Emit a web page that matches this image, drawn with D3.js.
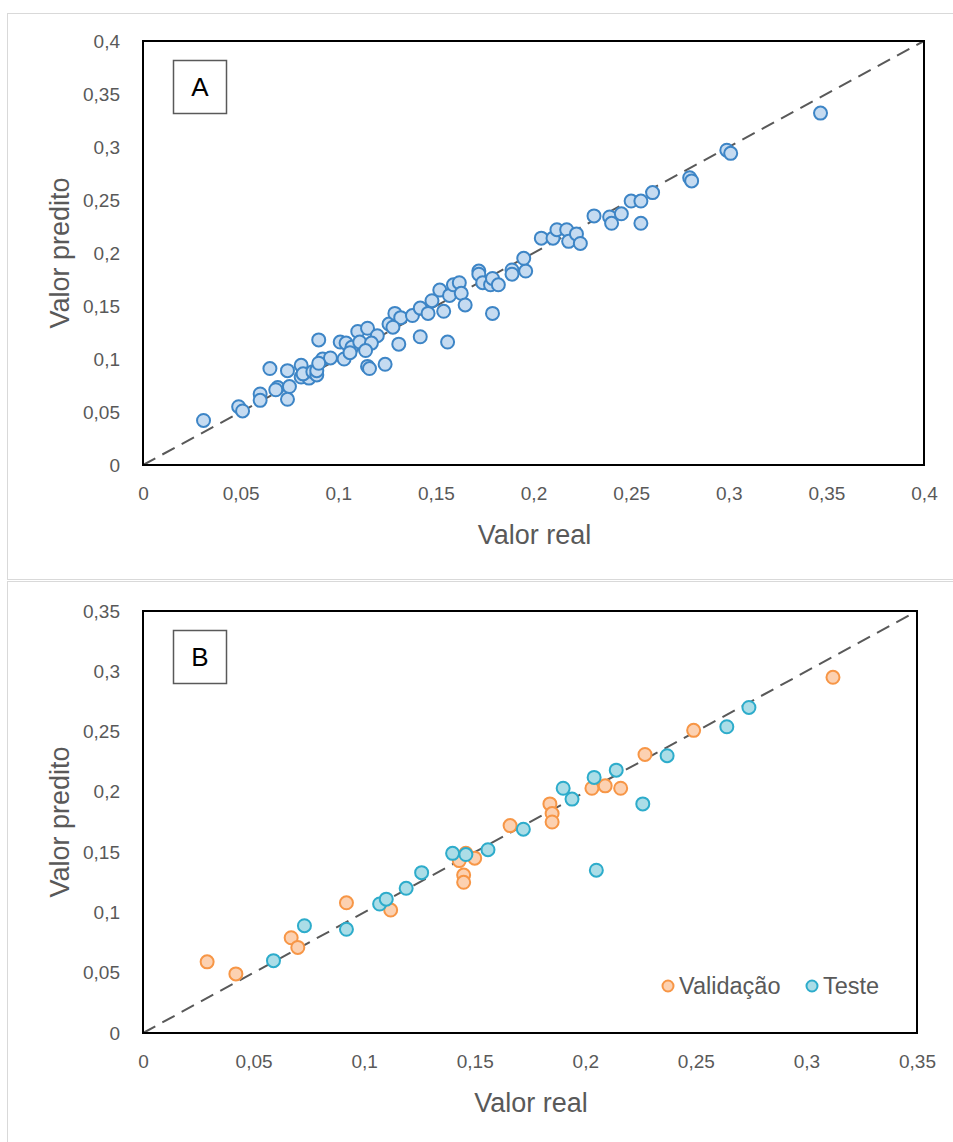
<!DOCTYPE html>
<html>
<head>
<meta charset="utf-8">
<script src="https://cdn.jsdelivr.net/npm/d3@7"></script>
<style>
	body { margin: 0; background: #fff; }
	svg { display: block; font-family: "Liberation Sans", Arial, sans-serif; }
</style>
</head>
<body>
<svg id="chart" width="953" height="1142"></svg>
<script>
// panel A: real vs predicted (all points)
var realA = [0.031, 0.049, 0.051, 0.060, 0.060, 0.065, 0.069, 0.068, 0.075, 0.074,
	0.074, 0.081, 0.081, 0.085, 0.082, 0.087, 0.089, 0.089, 0.090, 0.092,
	0.096, 0.090, 0.101, 0.104, 0.103, 0.107, 0.110, 0.111, 0.115, 0.120,
	0.117, 0.114, 0.106, 0.115, 0.116, 0.124, 0.126, 0.129, 0.132, 0.128,
	0.131, 0.138, 0.142, 0.146, 0.142, 0.148, 0.152, 0.154, 0.156, 0.157,
	0.159, 0.162, 0.163, 0.165, 0.172, 0.172, 0.174, 0.178, 0.179, 0.182,
	0.179, 0.189, 0.189, 0.196, 0.195, 0.204, 0.210, 0.212, 0.217, 0.218,
	0.222, 0.224, 0.231, 0.239, 0.240, 0.245, 0.255, 0.250, 0.255, 0.261,
	0.280, 0.281, 0.299, 0.301, 0.347];
var predA = [0.042, 0.055, 0.051, 0.067, 0.061, 0.091, 0.073, 0.071, 0.074, 0.089,
	0.062, 0.094, 0.083, 0.082, 0.086, 0.088, 0.085, 0.089, 0.118, 0.100,
	0.101, 0.096, 0.116, 0.115, 0.100, 0.111, 0.126, 0.116, 0.129, 0.122,
	0.115, 0.108, 0.106, 0.093, 0.091, 0.095, 0.133, 0.143, 0.139, 0.130,
	0.114, 0.141, 0.148, 0.143, 0.121, 0.155, 0.165, 0.145, 0.116, 0.160,
	0.170, 0.172, 0.162, 0.151, 0.183, 0.180, 0.172, 0.170, 0.176, 0.170,
	0.143, 0.184, 0.180, 0.183, 0.195, 0.214, 0.214, 0.222, 0.222, 0.211,
	0.218, 0.209, 0.235, 0.234, 0.228, 0.237, 0.228, 0.249, 0.249, 0.257,
	0.271, 0.268, 0.297, 0.294, 0.332];

// panel B: validation and test sets
var realVal = [0.029, 0.042, 0.067, 0.070, 0.092, 0.112, 0.146, 0.143, 0.150, 0.145,
	0.145, 0.166, 0.184, 0.185, 0.185, 0.203, 0.209, 0.216, 0.227, 0.249, 0.312];
var predVal = [0.059, 0.049, 0.079, 0.071, 0.108, 0.102, 0.149, 0.143, 0.145, 0.131,
	0.125, 0.172, 0.190, 0.182, 0.175, 0.203, 0.205, 0.203, 0.231, 0.251, 0.295];
var realTest = [0.059, 0.073, 0.092, 0.107, 0.110, 0.119, 0.126, 0.140, 0.146, 0.156,
	0.172, 0.190, 0.194, 0.204, 0.214, 0.205, 0.226, 0.237, 0.264, 0.274];
var predTest = [0.060, 0.089, 0.086, 0.107, 0.111, 0.120, 0.133, 0.149, 0.148, 0.152,
	0.169, 0.203, 0.194, 0.212, 0.218, 0.135, 0.190, 0.230, 0.254, 0.270];

var ticksA = [0, 0.05, 0.1, 0.15, 0.2, 0.25, 0.3, 0.35, 0.4];
var ticksB = [0, 0.05, 0.1, 0.15, 0.2, 0.25, 0.3, 0.35];
var seriesNames = ["Validação", "Teste"];

var textColor = "#595959";
var ptFmt = d3.formatLocale({decimal: ",", thousands: ".", grouping: [3], currency: ["", ""]}).format(".2~f");

var svg = d3.select("#chart");

// pairs two arrays of values into point objects
function zipPoints(xs, ys) {
	return xs.map(function(x, i) { return {x: x, y: ys[i]}; });
}

function drawPanel(opts) {
	var g = svg.append("g");

	// light gray frame around each panel
	g.append("rect")
		.attr("x", opts.frame[0] + 0.5).attr("y", opts.frame[1] + 0.5)
		.attr("width", opts.frame[2]).attr("height", opts.frame[3])
		.attr("fill", "none").attr("stroke", "#d9d9d9").attr("stroke-width", 1);

	var x = d3.scaleLinear().domain([0, opts.max]).range([opts.left, opts.right]);
	var y = d3.scaleLinear().domain([0, opts.max]).range([opts.bottom, opts.top]);

	var xAxis = g.append("g")
		.attr("transform", "translate(0," + opts.bottom + ")")
		.call(d3.axisBottom(x).tickValues(opts.ticks).tickFormat(ptFmt).tickSize(0).tickPadding(22));
	var yAxis = g.append("g")
		.attr("transform", "translate(" + opts.left + ",0)")
		.call(d3.axisLeft(y).tickValues(opts.ticks).tickFormat(ptFmt).tickSize(0).tickPadding(23));
	[xAxis, yAxis].forEach(function(a) {
		a.select(".domain").remove();
		a.selectAll("text")
			.attr("fill", textColor)
			.style("font-size", "19px")
			.style("font-family", "'Liberation Sans', Arial, sans-serif");
	});

	// diagonal reference line y = x
	g.append("line")
		.attr("x1", x(0)).attr("y1", y(0))
		.attr("x2", x(opts.max)).attr("y2", y(opts.max))
		.attr("stroke", "#595959").attr("stroke-width", 2)
		.attr("stroke-dasharray", "14,8");

	opts.series.forEach(function(s) {
		g.append("g").selectAll("circle")
			.data(s.points)
			.enter().append("circle")
			.attr("cx", function(d) { return x(d.x); })
			.attr("cy", function(d) { return y(d.y); })
			.attr("r", 6.5)
			.attr("fill", s.fill)
			.attr("stroke", s.stroke)
			.attr("stroke-width", 2);
	});

	// plot border
	g.append("rect")
		.attr("x", opts.left).attr("y", opts.top)
		.attr("width", opts.right - opts.left).attr("height", opts.bottom - opts.top)
		.attr("fill", "none").attr("stroke", "#000").attr("stroke-width", 2);

	// panel letter box
	g.append("rect")
		.attr("x", opts.left + 30.5).attr("y", opts.top + 19.5)
		.attr("width", 53).attr("height", 53)
		.attr("fill", "#fff").attr("stroke", "#595959").attr("stroke-width", 1.5);
	g.append("text")
		.attr("x", opts.left + 57).attr("y", opts.top + 55)
		.attr("text-anchor", "middle")
		.style("font-size", "26px")
		.attr("fill", "#000")
		.text(opts.letter);

	// axis titles
	g.append("text")
		.attr("x", (opts.left + opts.right) / 2 + 1).attr("y", opts.bottom + 79)
		.attr("text-anchor", "middle")
		.style("font-size", "27px")
		.attr("fill", textColor)
		.text("Valor real");
	g.append("text")
		.attr("transform", "translate(69," + ((opts.top + opts.bottom) / 2) + ") rotate(-90)")
		.attr("text-anchor", "middle")
		.style("font-size", "27px")
		.attr("fill", textColor)
		.text("Valor predito");

	return {x: x, y: y, g: g};
}

drawPanel({
	frame: [7, 13, 950, 566],
	left: 143, right: 924, top: 41, bottom: 465,
	max: 0.4, ticks: ticksA, letter: "A",
	series: [{points: zipPoints(realA, predA), fill: "#c5dbf1", stroke: "#3d85c6"}]
});

var colors = [
	{fill: "#fcd1b1", stroke: "#f79646"},
	{fill: "#abdde7", stroke: "#2daccb"}
];

var panelB = drawPanel({
	frame: [7, 581, 950, 570],
	left: 143, right: 917, top: 611, bottom: 1033,
	max: 0.35, ticks: ticksB, letter: "B",
	series: [
		{points: zipPoints(realVal, predVal), fill: colors[0].fill, stroke: colors[0].stroke},
		{points: zipPoints(realTest, predTest), fill: colors[1].fill, stroke: colors[1].stroke}
	]
});

// legend, bottom right of panel B
var legendX = [668, 812];
var legend = panelB.g.selectAll(".legend")
	.data(seriesNames)
	.enter().append("g")
	.attr("class", "legend")
	.attr("transform", function(d, i) { return "translate(" + legendX[i] + ",986)"; });
legend.append("circle")
	.attr("r", 5.5)
	.attr("fill", function(d, i) { return colors[i].fill; })
	.attr("stroke", function(d, i) { return colors[i].stroke; })
	.attr("stroke-width", 2);
legend.append("text")
	.attr("x", 11).attr("y", 8)
	.style("font-size", "23.5px")
	.attr("fill", textColor)
	.text(function(d) { return d; });
</script>
</body>
</html>
